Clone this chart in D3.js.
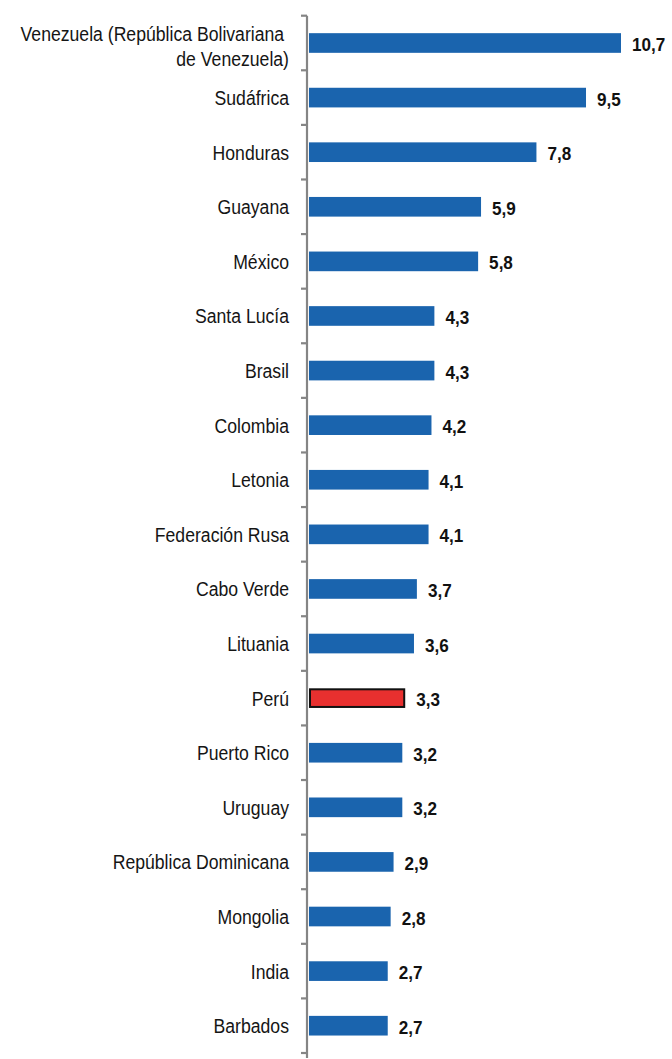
<!DOCTYPE html>
<html>
<head>
<meta charset="utf-8">
<script src="https://cdn.jsdelivr.net/npm/d3@7"></script>
<style>
  html, body { margin: 0; padding: 0; background: #fff; }
  svg text { font-family: "Liberation Sans", Arial, sans-serif; white-space: pre; }
</style>
</head>
<body>
<svg id="chart" width="672" height="1059"></svg>
<script>
// Country names (top to bottom) and their values
const countries = [
  "Venezuela (República Bolivariana de Venezuela)",
  "Sudáfrica", "Honduras", "Guayana", "México", "Santa Lucía", "Brasil",
  "Colombia", "Letonia", "Federación Rusa", "Cabo Verde", "Lituania",
  "Perú", "Puerto Rico", "Uruguay", "República Dominicana", "Mongolia",
  "India", "Barbados"
];
const values = [10.7, 9.5, 7.8, 5.9, 5.8, 4.3, 4.3, 4.2, 4.1, 4.1, 3.7, 3.6,
  3.3, 3.2, 3.2, 2.9, 2.8, 2.7, 2.7];
// Wrapped label lines for long names
const labelLines = {
  "Venezuela (República Bolivariana de Venezuela)": ["Venezuela (República Bolivariana ", "de Venezuela)"]
};
const highlight = "Perú";

const data = countries.map((c, i) => ({ name: c, value: values[i] }));

const svg = d3.select("#chart");
const axisX = 307;
const barX = 309;
const plotTop = 15.7, plotBottom = 1053;

const x = d3.scaleLinear().domain([0, 10.7]).range([barX, 621]);
const y = d3.scaleBand().domain(countries).range([plotTop, plotBottom])
  .paddingInner(0.64).paddingOuter(0.32);
const cy = d => y(d.name) + y.bandwidth() / 2;

const fmt = v => d3.format(".1f")(v).replace(".", ",");
const narrow = 0.84;   // horizontal condensing of the label face

// Bars
svg.append("g").selectAll("rect").data(data).join("rect")
  .attr("x", d => d.name === highlight ? x(0) + 1 : x(0))
  .attr("y", d => y(d.name) + (d.name === highlight ? 1 : 0))
  .attr("width", d => x(d.value) - x(0) - (d.name === highlight ? 2 : 0))
  .attr("height", d => y.bandwidth() - (d.name === highlight ? 2 : 0))
  .attr("fill", d => d.name === highlight ? "#E8302F" : "#1A64AE")
  .attr("stroke", d => d.name === highlight ? "#111" : "none")
  .attr("stroke-width", 2);

// Value labels
svg.append("g").selectAll("g").data(data).join("g")
  .attr("transform", d => `translate(${x(d.value) + 11},${cy(d) + 8}) scale(0.9,1)`)
  .append("text")
  .attr("font-size", 19)
  .attr("font-weight", "bold")
  .attr("fill", "#111")
  .text(d => fmt(d.value));

// Category axis with ticks at band boundaries
const axisG = svg.append("g");
axisG.append("line")
  .attr("x1", axisX).attr("x2", axisX)
  .attr("y1", plotTop).attr("y2", 1058)
  .attr("stroke", "#858585").attr("stroke-width", 2.2);
const step = y.step();
const bounds = d3.range(countries.length + 1).map(i => plotTop + i * step);
axisG.selectAll("line.tick").data(bounds).join("line")
  .attr("class", "tick")
  .attr("x1", axisX - 6).attr("x2", axisX)
  .attr("y1", d => d).attr("y2", d => d)
  .attr("stroke", "#858585").attr("stroke-width", 2.2);

// Category labels
const lab = svg.append("g").selectAll("g").data(data).join("g")
  .attr("transform", d => `translate(289,${cy(d)}) scale(${narrow},1)`)
  .append("text")
  .attr("text-anchor", "end")
  .attr("font-size", 21)
  .attr("fill", "#151515");
lab.each(function(d) {
  const lines = labelLines[d.name] || [d.name];
  const t = d3.select(this);
  const lh = 25;
  const first = lines.length === 1 ? 7.5 : -2;
  lines.forEach((l, i) => {
    t.append("tspan").attr("x", 0)
      .attr("y", first + i * lh)
      .text(l);
  });
});
</script>
</body>
</html>
